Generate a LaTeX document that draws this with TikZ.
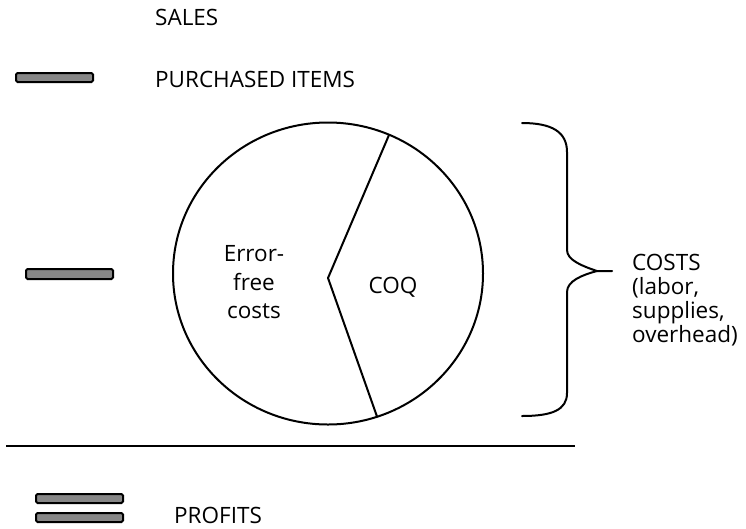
\documentclass[tikz,border=0pt]{standalone}
\usepackage{fontspec}
\setmainfont{Open Sans}
\usetikzlibrary{shapes.geometric}
\begin{document}
\begin{tikzpicture}[x=1pt,y=-1pt,
  bar/.style={draw=black,line width=2pt,fill=gray!95!black!90,rounded corners=1.5pt},
  lbl/.style={anchor=base west,inner sep=0pt,font=\fontsize{22.5}{24}\selectfont},
  stroke/.style={line width=2pt,line join=round,line cap=round}]
\useasboundingbox (0,0) rectangle (746,528);
% labels
\node[lbl] (sales) at (155,25) {SALES};
\node[lbl] (purch) at (155,87) {PURCHASED ITEMS};
\node[lbl] (profits) at (174,523) {PROFITS};
\node[lbl,align=left,anchor=north west] (costs) at (632,253.5) {COSTS\\(labor,\\supplies,\\overhead)};
% bars
\draw[bar] (16,73) rectangle (93,82);
\draw[bar] (26,269) rectangle (113,279);
\draw[bar] (36,494) rectangle (123,503);
\draw[bar] (36,513) rectangle (123,522);
% horizontal line
\coordinate (hl) at (6,446);
\coordinate (hr) at (575,446);
\draw[stroke,line cap=butt] (hl) -- (hr);
% pie
\node[draw,stroke,ellipse,minimum width=310pt,minimum height=302pt,inner sep=0pt] (pie) at (328,273.5) {};
\coordinate (pc) at (328,278);
\coordinate (pt) at (389,135);
\coordinate (pb) at (377,416.5);
\draw[stroke] (pt) -- (pc) -- (pb);
\node[inner sep=0pt,align=center,font=\fontsize{22.5}{28.5}\selectfont,anchor=north] (ef) at (254,245.5) {Error-\\free\\costs};
\node[inner sep=0pt,anchor=base,font=\fontsize{22.5}{24}\selectfont] (coq) at (393,293) {COQ};
% brace
\coordinate (btop) at (522,123);
\coordinate (bbot) at (522,416);
\coordinate (btip) at (597,271);
\coordinate (bend) at (612,271);
\draw[stroke] (btop) .. controls (552,123) and (567,132) .. (567,152) -- (567,250)
  .. controls (567,260) and (582,266) .. (btip) -- (bend);
\draw[stroke] (btip) .. controls (582,275) and (567,281) .. (567,292) -- (567,393)
  .. controls (567,410) and (552,416) .. (bbot);
\end{tikzpicture}
\end{document}
